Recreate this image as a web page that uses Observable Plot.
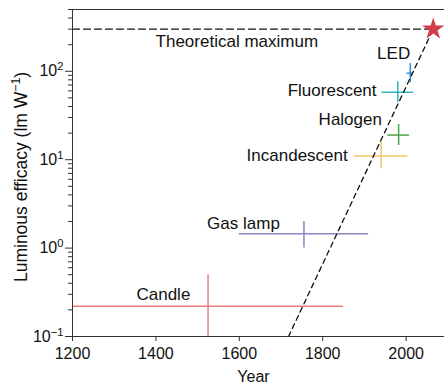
<!DOCTYPE html>
<html><head><meta charset="utf-8">
<script src="https://cdn.jsdelivr.net/npm/d3@7"></script>
<script src="https://cdn.jsdelivr.net/npm/@observablehq/plot@0.6"></script>
<style>body{margin:0;background:#fff} #chart svg{font-family:"Liberation Sans",Arial,sans-serif;background:#fff}</style>
</head><body><div id="chart"></div>
<script>
// Light sources with year range and luminous efficacy range
const sources   = ["Candle", "Gas lamp", "Incandescent", "Halogen", "Fluorescent", "LED"];
const yearMid   = [1525, 1755, 1940, 1982, 1980, 2010];
const yearLo    = [1200, 1600, 1876, 1956, 1942, 2002];
const yearHi    = [1850, 1910, 2004, 2008, 2018, 2017];
const effMid    = [0.22, 1.45, 11, 19, 58, 95];
const effLo     = [0.1, 1.0, 7.9, 14.5, 44, 74];
const effHi     = [0.5, 2.0, 15.6, 25, 76, 122];
const colors    = ["#ee7d7d", "#8a85c4", "#f0c869", "#4aa54a", "#2fb3bd", "#2f8fcf"];
// label anchors (data units)
const labelYear = [1418, 1610, 1860, 1942, 1929, 1970];
const labelEff  = [0.30, 1.92, 11, 28.8, 59.8, 157];
const labelAlign = ["middle", "middle", "end", "end", "end", "middle"];
// theoretical maximum and trend
const theoreticalMax = 300;
const maxYear = 2065;
const trendStartYear = 1718;
const trendStartEff = 0.1;
const maxLabel = "Theoretical maximum";
const maxLabelYear = 1594;
const maxLabelEff = 216;
// axes
const xTicks = [1200, 1400, 1600, 1800, 2000];
const yTicks = [0.1, 1, 10, 100];
const yMinorTicks = [0.2,0.3,0.4,0.5,0.6,0.7,0.8,0.9,2,3,4,5,6,7,8,9,20,30,40,50,60,70,80,90,200,300,400,500];
const xLabel = "Year";
const yLabel = "Luminous efficacy (lm W^{−1})";

const idx = sources.map((_, i) => i);
const sup = d => { const e = Math.round(Math.log10(d)); return "10^{" + (e < 0 ? "−" + (-e) : e) + "}"; };
const axisColor = "#333";

const chart = Plot.plot({
  width: 444, height: 388,
  marginLeft: 72, marginRight: 0, marginTop: 9, marginBottom: 52,
  style: {fontSize: "16px", fontFamily: "Liberation Sans, Arial, sans-serif", color: "#111"},
  x: {domain: [1200, 2092]},
  y: {type: "log", domain: [0.1, 500]},
  color: {type: "identity"},
  marks: [
    Plot.ruleY([500], {stroke: axisColor, strokeWidth: 1}),
    // horizontal error bars
    Plot.ruleY(idx, {y: i => effMid[i], x1: i => yearLo[i], x2: i => yearHi[i], stroke: i => colors[i], strokeWidth: 1.5, clip: true}),
    // vertical error bars
    Plot.ruleX(idx, {x: i => yearMid[i], y1: i => effLo[i], y2: i => effHi[i], stroke: i => colors[i], strokeWidth: 1.5, clip: true}),
    // theoretical maximum
    Plot.line([[1200, theoreticalMax], [maxYear, theoreticalMax]], {x: d => d[0], y: d => d[1], stroke: "#111", strokeWidth: 1.3, strokeDasharray: "7,4"}),
    Plot.line([[trendStartYear, trendStartEff], [maxYear, theoreticalMax]], {x: d => d[0], y: d => d[1], stroke: "#111", strokeWidth: 1.3, strokeDasharray: "5,4", clip: true}),
    Plot.dot([[maxYear, theoreticalMax]], {x: d => d[0], y: d => d[1], symbol: "star", r: 7, fill: "#d13f4a", stroke: "none"}),
    Plot.text([maxLabel], {x: () => maxLabelYear, y: () => maxLabelEff, text: d => d, fontSize: 17, fill: "#111"}),
    Plot.text(idx.filter(i => labelAlign[i] === "middle"), {x: i => labelYear[i], y: i => labelEff[i], text: i => sources[i], fontSize: 17, fill: "#111"}),
    Plot.text(idx.filter(i => labelAlign[i] === "end"), {x: i => labelYear[i], y: i => labelEff[i], text: i => sources[i], textAnchor: "end", fontSize: 17, fill: "#111"}),
    // axes
    Plot.ruleX([1200], {stroke: axisColor}),
    Plot.ruleY([0.1], {stroke: axisColor}),
    Plot.axisX(xTicks, {tickSize: 5, tickPadding: 6, label: null, tickFormat: d => String(d), stroke: axisColor, fill: "#111"}),
    Plot.axisY(yTicks, {tickSize: 7, tickPadding: 2, label: null, tickFormat: sup, stroke: axisColor, fill: "#111"}),
    Plot.axisY(yMinorTicks, {tickSize: 4, label: null, tickFormat: () => "", stroke: axisColor}),
    Plot.text([xLabel], {frameAnchor: "bottom", textAnchor: "middle", lineAnchor: "middle", text: d => d, dx: -5, dy: 40, fontSize: 16, fill: "#111"}),
    Plot.text([yLabel], {frameAnchor: "left", textAnchor: "middle", lineAnchor: "middle", text: d => d, rotate: -90, dx: -51, dy: 4, fontSize: 17.5, fill: "#111"})
  ]
});

// render ^{...} as superscript
chart.querySelectorAll("text, tspan").forEach(el => {
  if (el.childElementCount === 0 && el.textContent.includes("^{")) {
    const t = el.textContent;
    el.textContent = "";
    const re = /\^\{([^}]*)\}/g;
    let last = 0, m;
    while ((m = re.exec(t))) {
      if (m.index > last) el.appendChild(document.createTextNode(t.slice(last, m.index)));
      const ts = document.createElementNS("http://www.w3.org/2000/svg", "tspan");
      ts.setAttribute("baseline-shift", "super");
      ts.setAttribute("font-size", "70%");
      ts.textContent = m[1];
      el.appendChild(ts);
      last = re.lastIndex;
    }
    if (last < t.length) el.appendChild(document.createTextNode(t.slice(last)));
  }
});
document.getElementById("chart").appendChild(chart);
</script>
</body></html>
